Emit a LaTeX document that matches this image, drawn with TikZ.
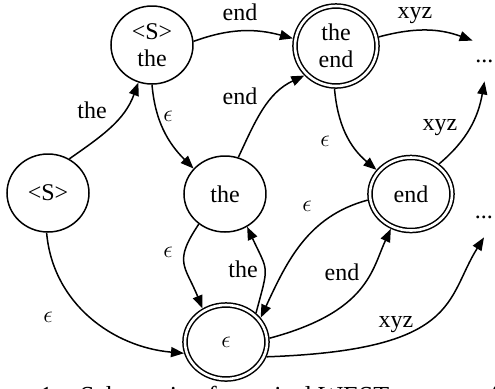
\documentclass[tikz,border=0pt]{standalone}
\usepackage{fontspec}
\setmainfont{Liberation Serif}
\usetikzlibrary{arrows.meta,shapes.geometric}
\begin{document}
\begin{tikzpicture}[x=0.5pt,y=0.5pt,
  every node/.style={font=\fontsize{12}{13.5}\selectfont},
  snode/.style={ellipse,draw,line width=0.75pt,inner sep=0pt,minimum width=41pt,minimum height=39pt,align=center},
  anode/.style={ellipse,draw,line width=0.75pt,double,double distance=1.3pt,inner sep=0pt,outer sep=1.4pt,minimum width=41pt,minimum height=37pt,align=center},
  dotnode/.style={inner sep=0pt,minimum width=11.5pt,minimum height=20pt},
  lab/.style={anchor=base,inner sep=0pt},
  conn/.style={line width=0.75pt,-{Triangle[length=6.5pt,width=5pt]}},
]
\useasboundingbox (0,0) rectangle (495,-388);
\clip (0,0) rectangle (495,-388);

\node[snode] (S0) at (48,-193) {<S>};
\node[snode] (S1) at (152,-45) {<S>\\the};
\node[snode,minimum height=38pt] (T) at (225,-194) {the};
\node[anode,minimum height=40pt] (TE) at (336,-46) {the\\end};
\node[anode,minimum height=36.5pt] (E) at (411,-194) {end};
\node[anode] (EPS) at (226,-342) {$\epsilon$};
\node[dotnode] (D1) at (484.5,-61) {...};
\node[dotnode] (D2) at (484,-217) {...};

\node[lab] (l1) at (92,-118) {the};
\node[lab] (l2) at (168,-121) {$\epsilon$};
\node[lab] (l3) at (240,-20) {end};
\node[lab] (l4) at (240,-104) {end};
\node[lab] (l5) at (415,-18) {xyz};
\node[lab] (l6) at (325,-146) {$\epsilon$};
\node[lab] (l7) at (440,-130) {xyz};
\node[lab] (l8) at (168,-257) {$\epsilon$};
\node[lab] (l9) at (243,-277) {the};
\node[lab] (l10) at (307,-211) {$\epsilon$};
\node[lab] (l11) at (342,-280) {end};
\node[lab] (l12) at (396,-327) {xyz};
\node[lab] (l13) at (48,-322) {$\epsilon$};

\draw[conn] (S0.58) to[out=35,in=250] (S1.250);
\draw[conn] (S1.270) to[out=275,in=135] (T.141);
\draw[conn] (S1.5) to[out=20,in=165] (TE.170);
\draw[conn] (T.70) to[out=65,in=205] (TE.223);
\draw[conn] (TE.12) to[out=15,in=160] (D1.north west);
\draw[conn] (TE.268) to[out=275,in=140] (E.145);
\draw[conn] (E.47) to[out=40,in=260] (D1.south);
\draw[conn] (E.188) to[out=195,in=65] (EPS.35);
\draw[conn] (EPS.44) to[out=75,in=295,looseness=1.5] (T.304);
\draw[conn] (T.229) to[out=236,in=112,looseness=1.4] (EPS.125);
\draw[conn] (EPS.5) to[out=15,in=245,out looseness=1.6,in looseness=0.7] (E.240);
\draw[conn] (EPS.-20) to[out=2,in=238,out looseness=2.0,in looseness=0.75] (D2.south);
\draw[conn] (S0.268) to[out=-85,in=175] (EPS.195);

\node[anchor=base west,inner sep=0pt,font=\fontsize{13}{15}\selectfont] (cap) at (-35,-404) {Figure 1c: Schematic of a typical WEST program for};
\end{tikzpicture}
\end{document}
